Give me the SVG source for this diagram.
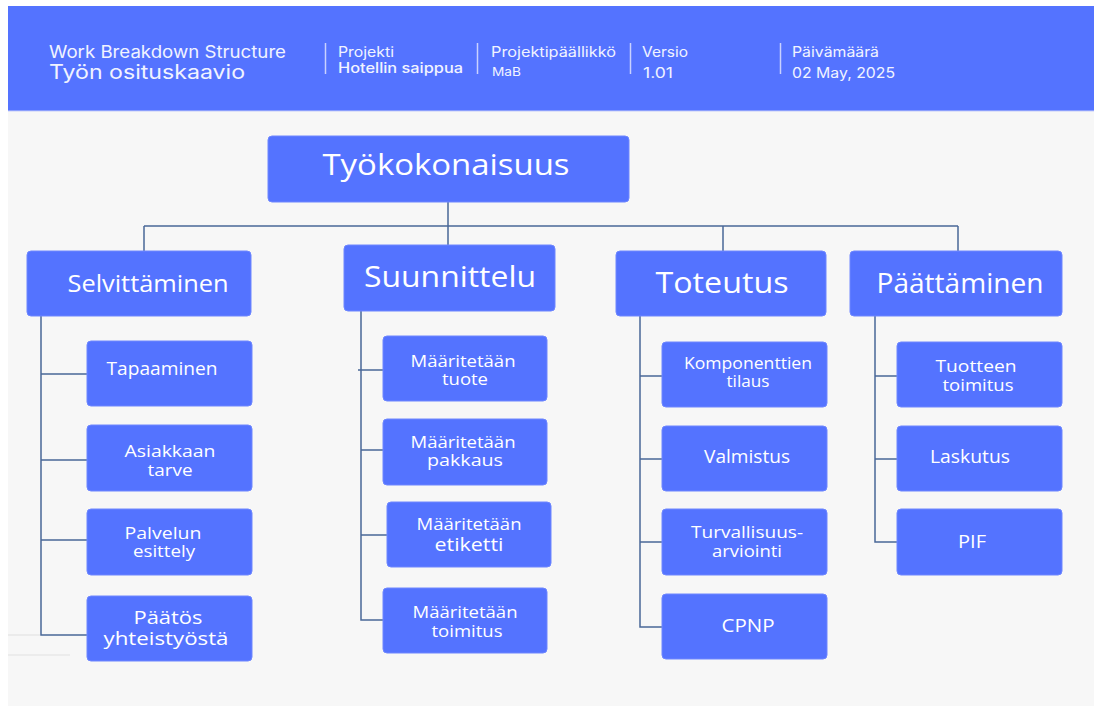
<svg xmlns="http://www.w3.org/2000/svg" width="1094" height="706" viewBox="0 0 1094 706">
  <style>
    .hdr { fill: #F1F3FF; font-family: Inter, "Liberation Sans", sans-serif; }
    .sep { stroke: #C9D1FF; stroke-width: 1.5; }
    .box { fill: #5473FF; stroke: #6E87FF; stroke-width: 1; }
    .lbl { fill: #FFFFFF; font-family: "Open Sans", "Liberation Sans", sans-serif; text-anchor: middle; }
    .two { font-size: 16px; }
    .wire { fill: none; stroke: #4A6898; stroke-width: 1.5; }
    .faint { stroke: #E2E2E2; stroke-width: 1.2; }
  </style>

  <!-- page background -->
  <rect x="0" y="0" width="1094" height="706" fill="#FFFFFF"/>
  <rect x="8" y="111" width="1086" height="595" fill="#F7F7F7"/>

  <!-- title band -->
  <g id="header">
    <rect x="8" y="6" width="1086" height="105" fill="#5473FF"/>
    <line x1="8" y1="111" x2="1094" y2="111" stroke="#C5CDFA" stroke-width="1"/>
    <text class="hdr" x="49" y="58" font-size="17" textLength="237" lengthAdjust="spacingAndGlyphs">Work Breakdown Structure</text>
    <text class="hdr" x="49" y="79" font-size="20" textLength="196" lengthAdjust="spacingAndGlyphs">Työn osituskaavio</text>

    <line class="sep" x1="325.5" y1="43" x2="325.5" y2="74"/>
    <text class="hdr" x="338" y="57" font-size="14" textLength="56" lengthAdjust="spacingAndGlyphs">Projekti</text>
    <text class="hdr" x="338" y="73" font-size="14" font-weight="500" textLength="125" lengthAdjust="spacingAndGlyphs">Hotellin saippua</text>

    <line class="sep" x1="477.5" y1="43" x2="477.5" y2="74"/>
    <text class="hdr" x="491" y="57" font-size="14" textLength="125" lengthAdjust="spacingAndGlyphs">Projektipäällikkö</text>
    <text class="hdr" x="492" y="76" font-size="12" textLength="29" lengthAdjust="spacingAndGlyphs">MaB</text>

    <line class="sep" x1="630.5" y1="43" x2="630.5" y2="74"/>
    <text class="hdr" x="642" y="57" font-size="14" textLength="46" lengthAdjust="spacingAndGlyphs">Versio</text>
    <text class="hdr" x="643" y="78" font-size="14" textLength="30" lengthAdjust="spacingAndGlyphs">1.01</text>

    <line class="sep" x1="780.5" y1="43" x2="780.5" y2="74"/>
    <text class="hdr" x="792" y="57" font-size="14" textLength="87" lengthAdjust="spacingAndGlyphs">Päivämäärä</text>
    <text class="hdr" x="792" y="78" font-size="14" textLength="103" lengthAdjust="spacingAndGlyphs">02 May, 2025</text>
  </g>

  <!-- tree connectors -->
  <g id="connectors">
    <path class="wire" d="M448 202 V226 M144 226 H958 M144 226 V251 M448 226 V245 M723 226 V251 M958 226 V251"/>
    <!-- Selvittäminen branch -->
    <path class="wire" d="M41 316 V635 H87 M41 374 H87 M41 460 H87 M41 540 H87"/>
    <!-- Suunnittelu branch -->
    <path class="wire" d="M361 311 V620 H383 M358 370 H383 M361 450 H390 M361 535 H387"/>
    <!-- Toteutus branch -->
    <path class="wire" d="M640 316 V627 H662 M640 376 H662 M640 459 H662 M640 542 H662"/>
    <!-- Päättäminen branch -->
    <path class="wire" d="M875 316 V542 H897 M875 376 H897 M875 459 H897"/>
    <line class="faint" x1="8" y1="635" x2="40" y2="635"/>
    <line class="faint" x1="8" y1="655" x2="70" y2="655"/>
  </g>

  <!-- root -->
  <g id="n-root">
    <rect class="box" x="268" y="136" width="361" height="66" rx="4"/>
    <text class="lbl" x="446" y="175" font-size="29" textLength="247" lengthAdjust="spacingAndGlyphs">Työkokonaisuus</text>
  </g>

  <!-- phases -->
  <g id="n-selvittaminen">
    <rect class="box" x="27" y="251" width="224" height="65" rx="4"/>
    <text class="lbl" x="148" y="292" font-size="24" textLength="161" lengthAdjust="spacingAndGlyphs">Selvittäminen</text>
  </g>
  <g id="n-suunnittelu">
    <rect class="box" x="344" y="245" width="211" height="66" rx="4"/>
    <text class="lbl" x="450" y="287" font-size="30" textLength="172" lengthAdjust="spacingAndGlyphs">Suunnittelu</text>
  </g>
  <g id="n-toteutus">
    <rect class="box" x="616" y="251" width="210" height="65" rx="4"/>
    <text class="lbl" x="722" y="293" font-size="30" textLength="133" lengthAdjust="spacingAndGlyphs">Toteutus</text>
  </g>
  <g id="n-paattaminen">
    <rect class="box" x="850" y="251" width="212" height="65" rx="4"/>
    <text class="lbl" x="960" y="293" font-size="27" textLength="167" lengthAdjust="spacingAndGlyphs">Päättäminen</text>
  </g>

  <!-- Selvittäminen tasks -->
  <g id="n-tapaaminen">
    <rect class="box" x="87" y="341" width="165" height="65" rx="4"/>
    <text class="lbl" x="162" y="375" font-size="18" textLength="111" lengthAdjust="spacingAndGlyphs">Tapaaminen</text>
  </g>
  <g id="n-asiakkaan-tarve">
    <rect class="box" x="87" y="425" width="165" height="66" rx="4"/>
    <text class="lbl two" x="170" y="457" textLength="91" lengthAdjust="spacingAndGlyphs">Asiakkaan</text>
    <text class="lbl two" x="170" y="476" textLength="45" lengthAdjust="spacingAndGlyphs">tarve</text>
  </g>
  <g id="n-palvelun-esittely">
    <rect class="box" x="87" y="509" width="165" height="66" rx="4"/>
    <text class="lbl two" x="163" y="539" textLength="77" lengthAdjust="spacingAndGlyphs">Palvelun</text>
    <text class="lbl two" x="164" y="557" textLength="62" lengthAdjust="spacingAndGlyphs">esittely</text>
  </g>
  <g id="n-paatos">
    <rect class="box" x="87" y="596" width="165" height="65" rx="4"/>
    <text class="lbl" x="168" y="624" font-size="19" textLength="69" lengthAdjust="spacingAndGlyphs">Päätös</text>
    <text class="lbl" x="166" y="645" font-size="19" textLength="125" lengthAdjust="spacingAndGlyphs">yhteistyöstä</text>
  </g>

  <!-- Suunnittelu tasks -->
  <g id="n-tuote">
    <rect class="box" x="383" y="336" width="164" height="65" rx="4"/>
    <text class="lbl two" x="463" y="367" textLength="105" lengthAdjust="spacingAndGlyphs">Määritetään</text>
    <text class="lbl two" x="465" y="385" textLength="46" lengthAdjust="spacingAndGlyphs">tuote</text>
  </g>
  <g id="n-pakkaus">
    <rect class="box" x="383" y="419" width="164" height="66" rx="4"/>
    <text class="lbl two" x="463" y="448" textLength="105" lengthAdjust="spacingAndGlyphs">Määritetään</text>
    <text class="lbl two" x="465" y="466" textLength="76" lengthAdjust="spacingAndGlyphs">pakkaus</text>
  </g>
  <g id="n-etiketti">
    <rect class="box" x="387" y="502" width="164" height="65" rx="4"/>
    <text class="lbl two" x="469" y="530" textLength="105" lengthAdjust="spacingAndGlyphs">Määritetään</text>
    <text class="lbl" x="469" y="551" font-size="18" textLength="69" lengthAdjust="spacingAndGlyphs">etiketti</text>
  </g>
  <g id="n-toimitus">
    <rect class="box" x="383" y="588" width="164" height="65" rx="4"/>
    <text class="lbl two" x="465" y="618" textLength="105" lengthAdjust="spacingAndGlyphs">Määritetään</text>
    <text class="lbl two" x="467" y="637" textLength="71" lengthAdjust="spacingAndGlyphs">toimitus</text>
  </g>

  <!-- Toteutus tasks -->
  <g id="n-komponentit">
    <rect class="box" x="662" y="342" width="165" height="65" rx="4"/>
    <text class="lbl two" x="748" y="369" textLength="128" lengthAdjust="spacingAndGlyphs">Komponenttien</text>
    <text class="lbl two" x="748" y="387" textLength="43" lengthAdjust="spacingAndGlyphs">tilaus</text>
  </g>
  <g id="n-valmistus">
    <rect class="box" x="662" y="426" width="165" height="65" rx="4"/>
    <text class="lbl" x="747" y="463" font-size="18" textLength="86" lengthAdjust="spacingAndGlyphs">Valmistus</text>
  </g>
  <g id="n-turvallisuus">
    <rect class="box" x="662" y="509" width="165" height="66" rx="4"/>
    <text class="lbl two" x="747" y="538" textLength="112" lengthAdjust="spacingAndGlyphs">Turvallisuus-</text>
    <text class="lbl two" x="747" y="557" textLength="70" lengthAdjust="spacingAndGlyphs">arviointi</text>
  </g>
  <g id="n-cpnp">
    <rect class="box" x="662" y="594" width="165" height="65" rx="4"/>
    <text class="lbl" x="748" y="632" font-size="18" textLength="53" lengthAdjust="spacingAndGlyphs">CPNP</text>
  </g>

  <!-- Päättäminen tasks -->
  <g id="n-tuotteen-toimitus">
    <rect class="box" x="897" y="342" width="165" height="65" rx="4"/>
    <text class="lbl two" x="976" y="372" textLength="81" lengthAdjust="spacingAndGlyphs">Tuotteen</text>
    <text class="lbl two" x="978" y="391" textLength="71" lengthAdjust="spacingAndGlyphs">toimitus</text>
  </g>
  <g id="n-laskutus">
    <rect class="box" x="897" y="426" width="165" height="65" rx="4"/>
    <text class="lbl" x="970" y="463" font-size="19" textLength="80" lengthAdjust="spacingAndGlyphs">Laskutus</text>
  </g>
  <g id="n-pif">
    <rect class="box" x="897" y="509" width="165" height="66" rx="4"/>
    <text class="lbl" x="972" y="548" font-size="19" textLength="28" lengthAdjust="spacingAndGlyphs">PIF</text>
  </g>
</svg>
